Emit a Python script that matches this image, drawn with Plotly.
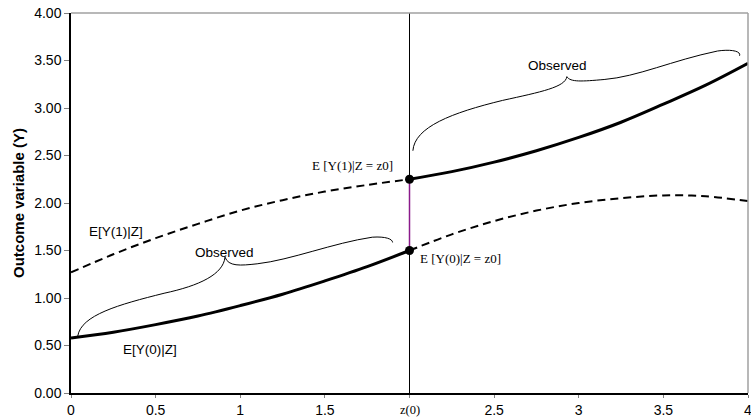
import plotly.graph_objects as go

# ---- data ----
z0 = 2.0
x_left = [0, 0.25, 0.5, 0.75, 1.0, 1.25, 1.5, 1.75, 2.0]
x_right = [2.0, 2.25, 2.5, 2.75, 3.0, 3.25, 3.5, 3.75, 4.0]

y0_left = [0.58, 0.64, 0.72, 0.81, 0.92, 1.04, 1.18, 1.33, 1.50]      # E[Y(0)|Z] observed
y0_right = [1.50, 1.67, 1.81, 1.92, 2.00, 2.05, 2.08, 2.07, 2.02]     # E[Y(0)|Z] counterfactual
y1_left = [1.27, 1.46, 1.63, 1.78, 1.92, 2.03, 2.12, 2.19, 2.25]      # E[Y(1)|Z] counterfactual
y1_right = [2.25, 2.33, 2.43, 2.55, 2.69, 2.85, 3.04, 3.24, 3.47]     # E[Y(1)|Z] observed

x_ticks = [0, 0.5, 1, 1.5, 2, 2.5, 3, 3.5, 4]
x_ticktext = ["0", "0.5", "1", "1.5", "", "2.5", "3", "3.5", "4"]
y_ticks = [0, 0.5, 1, 1.5, 2, 2.5, 3, 3.5, 4]
y_ticktext = ["0.00", "0.50", "1.00", "1.50", "2.00", "2.50", "3.00", "3.50", "4.00"]

SANS = "Liberation Sans, Arial, sans-serif"
SERIF = "Liberation Serif, Times New Roman, serif"

fig = go.Figure()

# vertical line at z0
fig.add_trace(go.Scatter(x=[z0, z0], y=[0, 4], mode="lines",
                         line=dict(color="black", width=1), hoverinfo="skip"))
# purple jump segment
fig.add_trace(go.Scatter(x=[z0, z0], y=[y0_left[-1], y1_right[0]], mode="lines",
                         line=dict(color="#8B1A8B", width=1.5), hoverinfo="skip"))

dash = "8px,5px"
fig.add_trace(go.Scatter(x=x_left, y=y1_left, mode="lines",
                         line=dict(color="black", width=2, dash=dash, shape="spline")))
fig.add_trace(go.Scatter(x=x_right, y=y0_right, mode="lines",
                         line=dict(color="black", width=2, dash=dash, shape="spline")))
fig.add_trace(go.Scatter(x=x_left, y=y0_left, mode="lines",
                         line=dict(color="black", width=3, shape="spline")))
fig.add_trace(go.Scatter(x=x_right, y=y1_right, mode="lines",
                         line=dict(color="black", width=3, shape="spline")))
# points at z0
fig.add_trace(go.Scatter(x=[z0, z0], y=[y1_right[0], y0_left[-1]], mode="markers",
                         marker=dict(color="black", size=9)))

# braces
brace_low = ("M 0.04,0.60 C 0.06,0.82 0.28,0.93 0.55,1.05 "
             "C 0.76,1.13 0.90,1.25 0.91,1.43 "
             "M 0.91,1.43 C 0.93,1.33 1.00,1.34 1.10,1.36 "
             "C 1.30,1.40 1.55,1.58 1.78,1.64 C 1.86,1.65 1.90,1.62 1.90,1.585")
brace_up = ("M 2.02,2.55 C 2.03,2.80 2.25,2.95 2.55,3.08 "
            "C 2.78,3.17 2.92,3.22 2.93,3.33 "
            "M 2.93,3.33 C 2.95,3.27 3.02,3.28 3.15,3.30 "
            "C 3.35,3.33 3.55,3.50 3.82,3.60 C 3.90,3.62 3.96,3.60 3.95,3.55")
shapes = [
    dict(type="path", path=brace_low, xref="x", yref="y", line=dict(color="black", width=1)),
    dict(type="path", path=brace_up, xref="x", yref="y", line=dict(color="black", width=1)),
    # gray top and right frame
    dict(type="line", xref="paper", yref="paper", x0=0, x1=1, y0=1, y1=1,
         line=dict(color="#A0A0A0", width=1.5)),
    dict(type="line", xref="paper", yref="paper", x0=1, x1=1, y0=0, y1=1,
         line=dict(color="#A0A0A0", width=1.5)),
]

annotations = [
    dict(x=0.904, y=1.474, text="Observed", showarrow=False, font=dict(family=SANS, size=13.5, color="black")),
    dict(x=2.877, y=3.45, text="Observed", showarrow=False, font=dict(family=SANS, size=13.5, color="black")),
    dict(x=0.263, y=1.70, text="E[Y(1)|Z]", showarrow=False, font=dict(family=SANS, size=13.5, color="black")),
    dict(x=0.464, y=0.463, text="E[Y(0)|Z]", showarrow=False, font=dict(family=SANS, size=13.5, color="black")),
    dict(x=1.914, y=2.40, text="E [Y(1)|Z = z0]", showarrow=False, xanchor="right",
         font=dict(family=SERIF, size=13, color="black")),
    dict(x=2.05, y=1.42, text="E [Y(0)|Z = z0]", showarrow=False, xanchor="left",
         font=dict(family=SERIF, size=13, color="black")),
    dict(x=2.0, xref="x", y=0, yref="paper", yanchor="middle", yshift=-17, text="z(0)",
         showarrow=False, borderpad=0, font=dict(family=SERIF, size=12.5, color="black")),
]

fig.update_layout(
    width=751, height=418,
    margin=dict(l=71, r=3, t=13, b=25),
    paper_bgcolor="white", plot_bgcolor="white",
    showlegend=False,
    shapes=shapes, annotations=annotations,
    xaxis=dict(range=[0, 4], tickvals=x_ticks, ticktext=x_ticktext, automargin=False,
               ticklabeloverflow="allow",
               showgrid=False, zeroline=False, showline=True, linecolor="black", linewidth=1.5,
               ticks="outside", ticklen=3, tickcolor="#808080",
               tickfont=dict(family=SANS, size=14, color="black")),
    yaxis=dict(range=[0, 4], tickvals=y_ticks, ticktext=y_ticktext, automargin=False,
               ticklabeloverflow="allow",
               showgrid=False, zeroline=False, showline=True, linecolor="black", linewidth=1.5,
               ticks="outside", ticklen=5, tickcolor="#808080",
               tickfont=dict(family=SANS, size=14, color="black"),
               title=dict(text="<b>Outcome variable (Y)</b>", standoff=6,
                          font=dict(family=SANS, size=15, color="black"))),
)

fig.write_html("out.html", config={"displayModeBar": False},
               post_script="document.body.style.margin='0';document.body.style.padding='0';"
                           "document.documentElement.style.overflow='hidden';")
